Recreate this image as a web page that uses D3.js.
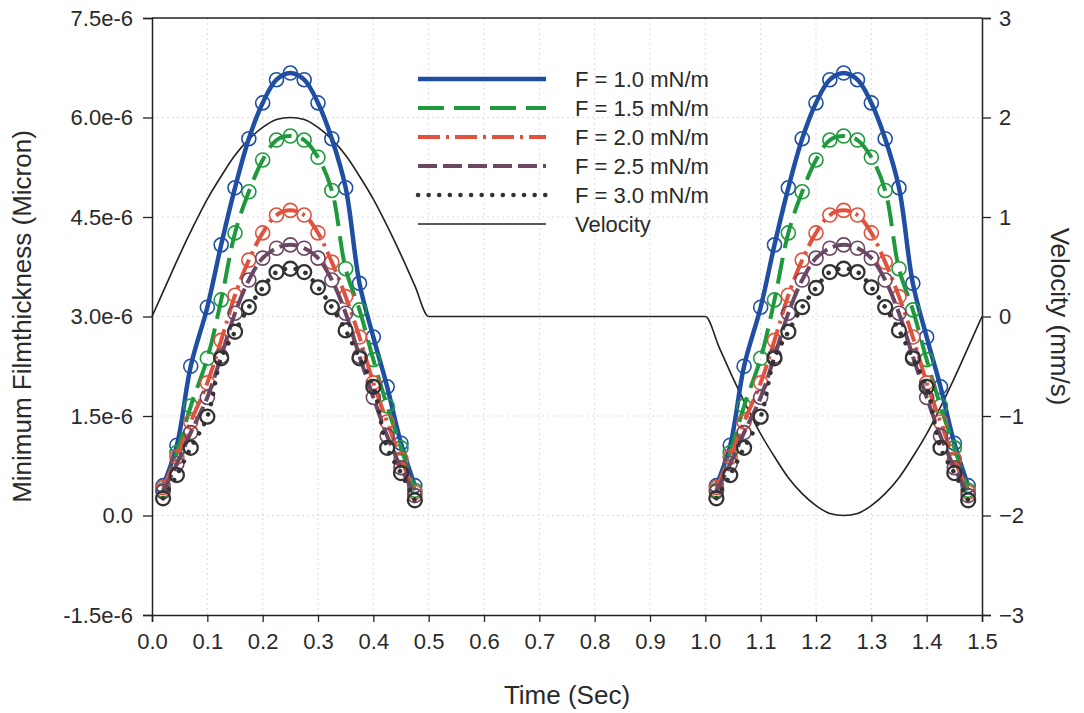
<!DOCTYPE html>
<html>
<head>
<meta charset="utf-8">
<script src="https://cdn.jsdelivr.net/npm/d3@7"></script>
<style>
  body { margin: 0; background: #fff; }
  svg { font-family: "Liberation Sans", Arial, sans-serif; }
</style>
</head>
<body>
<div id="chart"></div>
<script>
// film thickness values are in units of 1e-6
const timeA = [0.02, 0.045, 0.07, 0.1, 0.125, 0.15, 0.175, 0.2, 0.225, 0.25, 0.275, 0.3, 0.325, 0.35, 0.375, 0.4, 0.425, 0.45, 0.475];
const timeB = [1.02, 1.045, 1.07, 1.1, 1.125, 1.15, 1.175, 1.2, 1.225, 1.25, 1.275, 1.3, 1.325, 1.35, 1.375, 1.4, 1.425, 1.45, 1.475];

const f10 = [0.45, 1.06, 2.25, 3.14, 4.08, 4.94, 5.68, 6.22, 6.57, 6.67, 6.57, 6.22, 5.68, 4.94, 3.50, 2.69, 1.94, 1.09, 0.45];
const f15 = [0.38, 0.95, 1.65, 2.37, 3.25, 4.26, 4.88, 5.36, 5.66, 5.72, 5.66, 5.40, 4.90, 3.72, 3.10, 2.35, 1.65, 1.02, 0.38];
const f20 = [0.42, 0.88, 1.41, 2.00, 2.64, 3.32, 3.85, 4.26, 4.53, 4.60, 4.53, 4.26, 3.82, 3.30, 2.69, 2.00, 1.41, 0.85, 0.35];
const f25 = [0.36, 0.78, 1.25, 1.78, 2.40, 3.05, 3.55, 3.88, 4.03, 4.08, 4.03, 3.88, 3.55, 3.05, 2.40, 1.78, 1.20, 0.72, 0.30];
const f30 = [0.26, 0.61, 1.02, 1.49, 2.37, 2.77, 3.14, 3.43, 3.67, 3.72, 3.67, 3.44, 3.14, 2.79, 2.37, 1.94, 1.02, 0.64, 0.23];

const velTime = [0, 0.025, 0.05, 0.075, 0.1, 0.125, 0.15, 0.175, 0.2, 0.225, 0.25, 0.275, 0.3, 0.325, 0.35, 0.375, 0.4, 0.425, 0.45, 0.475, 0.5,
  1.0, 1.025, 1.05, 1.075, 1.1, 1.125, 1.15, 1.175, 1.2, 1.225, 1.25, 1.275, 1.3, 1.325, 1.35, 1.375, 1.4, 1.425, 1.45, 1.475, 1.5];
const velocity = [0, 0.31, 0.62, 0.91, 1.18, 1.41, 1.62, 1.78, 1.90, 1.98, 2.0, 1.98, 1.90, 1.78, 1.62, 1.41, 1.18, 0.91, 0.62, 0.31, 0,
  0, -0.31, -0.62, -0.91, -1.18, -1.41, -1.62, -1.78, -1.90, -1.98, -2.0, -1.98, -1.90, -1.78, -1.62, -1.41, -1.18, -0.91, -0.62, -0.31, 0];

const seriesNames = ["F = 1.0 mN/m", "F = 1.5 mN/m", "F = 2.0 mN/m", "F = 2.5 mN/m", "F = 3.0 mN/m"];
const seriesValues = [f10, f15, f20, f25, f30];
const xTicks = [0, 0.1, 0.2, 0.3, 0.4, 0.5, 0.6, 0.7, 0.8, 0.9, 1.0, 1.1, 1.2, 1.3, 1.4, 1.5];
const yTicks = [-1.5, 0, 1.5, 3.0, 4.5, 6.0, 7.5];
const vTicks = [-3, -2, -1, 0, 1, 2, 3];

const styles = [
  { color: "#1f4ea3", width: 4.5, dash: null, cap: "butt" },
  { color: "#1e9a3c", width: 4, dash: "26 10", cap: "butt" },
  { color: "#e0523d", width: 4, dash: "22 6 3 6", cap: "butt" },
  { color: "#6a4763", width: 4, dash: "19 6", cap: "butt" },
  { color: "#333333", width: 4.5, dash: "0.1 10.5", cap: "round" }
];

const W = 1084, H = 713;
const m = { left: 152, top: 18, right: 102, bottom: 98 };
const iw = W - m.left - m.right, ih = H - m.top - m.bottom;

const svg = d3.select("#chart").append("svg").attr("width", W).attr("height", H);
const g = svg.append("g").attr("transform", `translate(${m.left},${m.top})`);

const x = d3.scaleLinear().domain([0, 1.5]).range([0, iw]);
const y = d3.scaleLinear().domain([-1.5, 7.5]).range([ih, 0]);
const yv = d3.scaleLinear().domain([-3, 3]).range([ih, 0]);

// grid
g.selectAll("line.gx").data(xTicks.slice(1, -1)).enter().append("line")
  .attr("x1", d => x(d)).attr("x2", d => x(d)).attr("y1", 0).attr("y2", ih)
  .attr("stroke", "#dcdcdc").attr("stroke-dasharray", "2 3");
g.selectAll("line.gy").data(yTicks.slice(1, -1)).enter().append("line")
  .attr("y1", d => y(d)).attr("y2", d => y(d)).attr("x1", 0).attr("x2", iw)
  .attr("stroke", "#dcdcdc").attr("stroke-dasharray", "2 3");

// axes
const fmtY = d => d === 0 ? "0.0" : d.toFixed(1) + "e-6";
const xAxis = g.append("g").attr("transform", `translate(0,${ih})`)
  .call(d3.axisBottom(x).tickValues(xTicks).tickFormat(d3.format(".1f")).tickSize(7).tickPadding(11));
const yAxis = g.append("g")
  .call(d3.axisLeft(y).tickValues(yTicks).tickFormat(fmtY).tickSize(9).tickPadding(10));
const vAxis = g.append("g").attr("transform", `translate(${iw},0)`)
  .call(d3.axisRight(yv).tickValues(vTicks).tickFormat(d3.format("d")).tickSize(9).tickPadding(8));
g.append("line").attr("x1", 0).attr("x2", iw).attr("y1", 0).attr("y2", 0).attr("stroke", "#222").attr("stroke-width", 1.5);

[xAxis, yAxis, vAxis].forEach(a => {
  a.selectAll("text").style("font-size", "22px").attr("fill", "#2a2a2a");
  a.selectAll("line").attr("stroke", "#222").attr("stroke-width", 1.3);
  a.select(".domain").attr("stroke", "#222").attr("stroke-width", 1.5);
});

// velocity line
const vline = d3.line().x((d, i) => x(velTime[i])).y(d => yv(d)).curve(d3.curveMonotoneX);
g.append("path").datum(velocity).attr("d", vline)
  .attr("fill", "none").attr("stroke", "#222").attr("stroke-width", 1.6);

// film thickness series
seriesValues.forEach((vals, si) => {
  const s = styles[si];
  [timeA, timeB].forEach(times => {
    const pts = vals.map((v, i) => [times[i], v]);
    g.append("path").datum(pts)
      .attr("d", d3.line().x(d => x(d[0])).y(d => y(d[1])).curve(d3.curveCatmullRom))
      .attr("fill", "none").attr("stroke", s.color).attr("stroke-width", s.width)
      .attr("stroke-dasharray", s.dash).attr("stroke-linecap", s.cap);
    g.selectAll(null).data(pts).enter().append("circle")
      .attr("cx", d => x(d[0])).attr("cy", d => y(d[1])).attr("r", 7)
      .attr("fill", "none").attr("stroke", s.color).attr("stroke-width", si === 4 ? 2.3 : 1.6);
  });
});

// legend
const legend = svg.append("g").attr("transform", "translate(418,79)");
const legendItems = seriesNames.map((n, i) => ({ name: n, style: styles[i] }))
  .concat([{ name: "Velocity", style: { color: "#222", width: 1.6, dash: null, cap: "butt" } }]);
legendItems.forEach((d, i) => {
  const ly = i * 29;
  legend.append("line").attr("x1", 0).attr("x2", 128).attr("y1", ly).attr("y2", ly)
    .attr("stroke", d.style.color).attr("stroke-width", d.style.width)
    .attr("stroke-dasharray", d.style.dash).attr("stroke-linecap", d.style.cap);
  legend.append("text").attr("x", 157).attr("y", ly).attr("dy", "0.35em")
    .style("font-size", "22px").attr("fill", "#2a2a2a").text(d.name);
});

// axis titles
svg.append("text").attr("x", 567).attr("y", 704).attr("text-anchor", "middle")
  .style("font-size", "26px").attr("fill", "#2a2a2a").text("Time (Sec)");
svg.append("text").attr("transform", `translate(31,${m.top + ih / 2}) rotate(-90)`)
  .attr("text-anchor", "middle").style("font-size", "26px").attr("fill", "#2a2a2a")
  .text("Minimum Filmthickness (Micron)");
svg.append("text").attr("transform", `translate(1051,${m.top + ih / 2}) rotate(90)`)
  .attr("text-anchor", "middle").style("font-size", "26px").attr("fill", "#2a2a2a")
  .text("Velocity (mm/s)");
</script>
</body>
</html>
